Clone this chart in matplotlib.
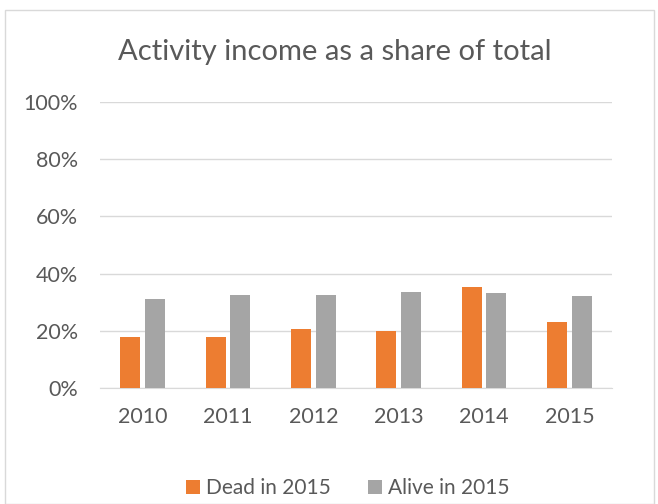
import matplotlib
matplotlib.use("Agg")
import matplotlib.pyplot as plt
import numpy as np
from matplotlib.patches import Rectangle

years = ["2010", "2011", "2012", "2013", "2014", "2015"]
dead = [17.9, 17.9, 20.6, 20.0, 35.3, 23.1]
alive = [31.2, 32.6, 32.5, 33.7, 33.2, 32.0]
yticks = [0, 20, 40, 60, 80, 100]

plt.rcParams['font.family'] = ['Lato', 'DejaVu Sans']
fig = plt.figure(figsize=(6.58, 5.04), dpi=100)
W, H = 658, 504
ax = fig.add_axes([100 / W, 1 - 388 / H, 512 / W, (388 - 102) / H])

x = np.arange(len(years))
bw = 0.234
off = 0.144
ax.bar(x - off, dead, bw, color="#ED7D31", label="Dead in 2015", zorder=3)
ax.bar(x + off, alive, bw, color="#A5A5A5", label="Alive in 2015", zorder=3)

ax.set_xlim(-0.5, len(years) - 0.5)
ax.set_ylim(0, 100)
ax.set_yticks(yticks)
ax.set_yticklabels([f"{v}%" for v in yticks])
ax.set_xticks(x)
ax.set_xticklabels(years)
ax.grid(axis="y", color="#D9D9D9", linewidth=1, zorder=0)
for s in ["top", "right", "left"]:
    ax.spines[s].set_visible(False)
ax.spines["bottom"].set_color("#D9D9D9")
ax.tick_params(axis="both", length=0, colors="#595959", labelsize=15.5)
ax.tick_params(axis="y", pad=16)
ax.tick_params(axis="x", pad=14)

fig.text(335 / W, 1 - 52 / H, "Activity income as a share of total", ha="center", va="center",
         fontsize=21, color="#595959")

leg = fig.legend(loc="center", bbox_to_anchor=(348 / W, 1 - 488 / H), ncol=2, frameon=False,
                 fontsize=15, labelcolor="#595959", handlelength=0.65, handleheight=0.65,
                 handletextpad=0.3, columnspacing=1.8)

fig.patches.append(Rectangle((5 / W, 0), 649 / W, 1 - 10 / H, transform=fig.transFigure,
                             fill=False, edgecolor="#D9D9D9", linewidth=1))

fig.savefig("out.png", dpi=100)
